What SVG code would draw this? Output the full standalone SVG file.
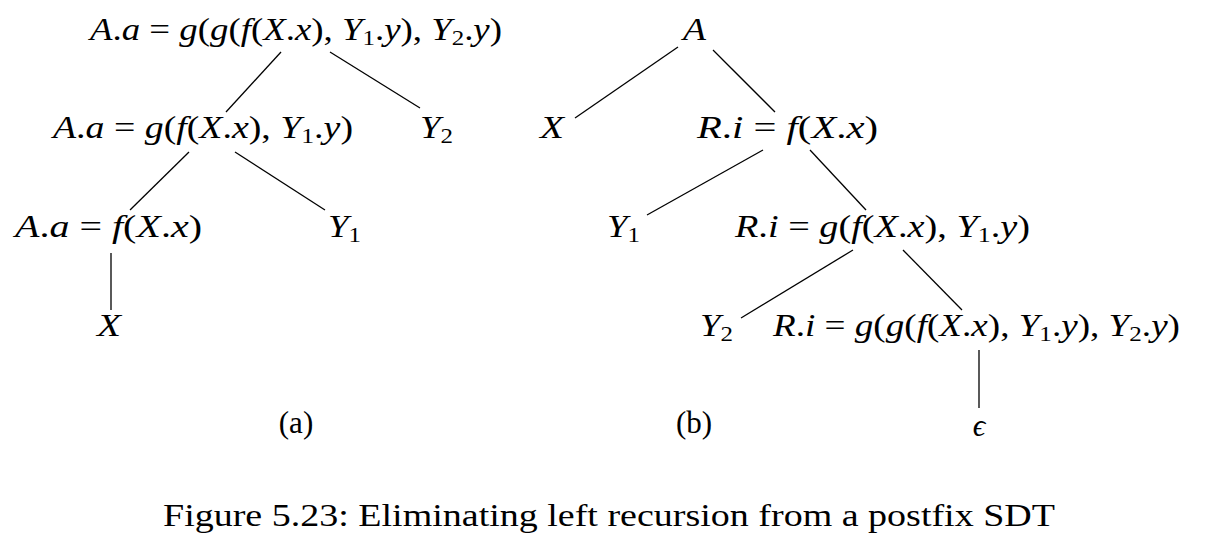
<svg xmlns="http://www.w3.org/2000/svg" width="1218" height="534" viewBox="0 0 1218 534">
<style>
text{font-family:"Liberation Serif","Times New Roman",serif;font-size:31px;fill:#000}
.i{font-style:italic}
.s{font-size:21px}
.e line{stroke:#000;stroke-width:1.3}
</style>
<rect width="1218" height="534" fill="#fff"/>
<g id="tree-a">
<g id="a-root"><text x="90" y="40" textLength="412" lengthAdjust="spacingAndGlyphs"><tspan class="i">A</tspan>.<tspan class="i">a</tspan> = <tspan class="i">g</tspan>(<tspan class="i">g</tspan>(<tspan class="i">f</tspan>(<tspan class="i">X</tspan>.<tspan class="i">x</tspan>), <tspan class="i">Y</tspan><tspan class="s" dy="5">1</tspan><tspan dy="-5">.</tspan><tspan class="i">y</tspan>), <tspan class="i">Y</tspan><tspan class="s" dy="5">2</tspan><tspan dy="-5">.</tspan><tspan class="i">y</tspan>)</text></g>
<g id="a-mid"><text x="53" y="138" textLength="300" lengthAdjust="spacingAndGlyphs"><tspan class="i">A</tspan>.<tspan class="i">a</tspan> = <tspan class="i">g</tspan>(<tspan class="i">f</tspan>(<tspan class="i">X</tspan>.<tspan class="i">x</tspan>), <tspan class="i">Y</tspan><tspan class="s" dy="5">1</tspan><tspan dy="-5">.</tspan><tspan class="i">y</tspan>)</text></g>
<g id="a-y2"><text x="420" y="138" textLength="33" lengthAdjust="spacingAndGlyphs"><tspan class="i">Y</tspan><tspan class="s" dy="5">2</tspan></text></g>
<g id="a-low"><text x="15" y="237" textLength="187" lengthAdjust="spacingAndGlyphs"><tspan class="i">A</tspan>.<tspan class="i">a</tspan> = <tspan class="i">f</tspan>(<tspan class="i">X</tspan>.<tspan class="i">x</tspan>)</text></g>
<g id="a-y1"><text x="328" y="237" textLength="33" lengthAdjust="spacingAndGlyphs"><tspan class="i">Y</tspan><tspan class="s" dy="5">1</tspan></text></g>
<g id="a-x"><text x="97" y="336" class="i" textLength="24" lengthAdjust="spacingAndGlyphs">X</text></g>
<g id="a-label"><text x="296" y="433" text-anchor="middle">(a)</text></g>
</g>
<g id="tree-b">
<g id="b-root"><text x="683" y="40" class="i" textLength="23" lengthAdjust="spacingAndGlyphs">A</text></g>
<g id="b-x"><text x="540" y="138" class="i" textLength="24" lengthAdjust="spacingAndGlyphs">X</text></g>
<g id="b-r1"><text x="697" y="138" textLength="181" lengthAdjust="spacingAndGlyphs"><tspan class="i">R</tspan>.<tspan class="i">i</tspan> = <tspan class="i">f</tspan>(<tspan class="i">X</tspan>.<tspan class="i">x</tspan>)</text></g>
<g id="b-y1"><text x="607" y="237" textLength="33" lengthAdjust="spacingAndGlyphs"><tspan class="i">Y</tspan><tspan class="s" dy="5">1</tspan></text></g>
<g id="b-r2"><text x="735" y="237" textLength="295" lengthAdjust="spacingAndGlyphs"><tspan class="i">R</tspan>.<tspan class="i">i</tspan> = <tspan class="i">g</tspan>(<tspan class="i">f</tspan>(<tspan class="i">X</tspan>.<tspan class="i">x</tspan>), <tspan class="i">Y</tspan><tspan class="s" dy="5">1</tspan><tspan dy="-5">.</tspan><tspan class="i">y</tspan>)</text></g>
<g id="b-y2"><text x="700" y="336" textLength="33" lengthAdjust="spacingAndGlyphs"><tspan class="i">Y</tspan><tspan class="s" dy="5">2</tspan></text></g>
<g id="b-r3"><text x="773" y="336" textLength="407" lengthAdjust="spacingAndGlyphs"><tspan class="i">R</tspan>.<tspan class="i">i</tspan> = <tspan class="i">g</tspan>(<tspan class="i">g</tspan>(<tspan class="i">f</tspan>(<tspan class="i">X</tspan>.<tspan class="i">x</tspan>), <tspan class="i">Y</tspan><tspan class="s" dy="5">1</tspan><tspan dy="-5">.</tspan><tspan class="i">y</tspan>), <tspan class="i">Y</tspan><tspan class="s" dy="5">2</tspan><tspan dy="-5">.</tspan><tspan class="i">y</tspan>)</text></g>
<g id="b-eps"><text x="979" y="436" class="i" text-anchor="middle">ϵ</text></g>
<g id="b-label"><text x="694" y="433" text-anchor="middle">(b)</text></g>
</g>
<g id="edges" class="e">
<line x1="281" y1="52" x2="226" y2="112"/>
<line x1="330" y1="52" x2="420" y2="108"/>
<line x1="189" y1="152" x2="130" y2="210"/>
<line x1="235" y1="152" x2="325" y2="210"/>
<line x1="111" y1="253" x2="111" y2="310"/>
<line x1="678" y1="47" x2="575" y2="118"/>
<line x1="713" y1="50" x2="775" y2="112"/>
<line x1="763" y1="150" x2="647" y2="215"/>
<line x1="810" y1="150" x2="866" y2="210"/>
<line x1="853" y1="250" x2="741" y2="318"/>
<line x1="903" y1="250" x2="962" y2="310"/>
<line x1="979" y1="350" x2="979" y2="408"/>
</g>
<g id="caption"><text x="163" y="526" textLength="892" lengthAdjust="spacingAndGlyphs">Figure 5.23: Eliminating left recursion from a postfix SDT</text></g>
</svg>
